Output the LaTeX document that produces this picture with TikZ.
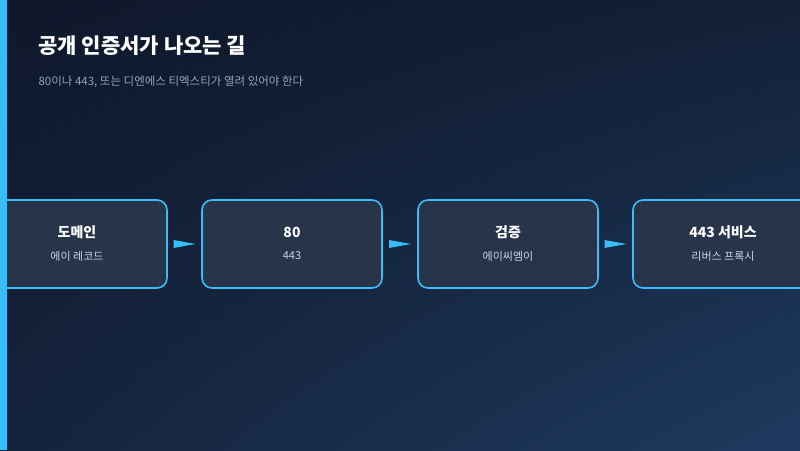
\documentclass[tikz,border=0pt]{standalone}
\usepackage{fontspec}
\setmainfont{Noto Sans CJK KR}
\usetikzlibrary{calc,shadings}
\definecolor{bord}{HTML}{38BDF8}
\definecolor{boxf}{HTML}{28344A}
\definecolor{subc}{HTML}{CBD5E1}
\definecolor{gr}{HTML}{94A3B8}
\definecolor{bgul}{HTML}{0F172A}
\definecolor{bgur}{HTML}{122037}
\definecolor{bgll}{HTML}{14233C}
\definecolor{bglr}{HTML}{1E3A5F}
\begin{document}
\begin{tikzpicture}[x=1pt,y=-1pt,
 box/.style={draw=bord,line width=1.6pt,fill=boxf,rounded corners=10pt,minimum width=180pt,minimum height=88pt,inner sep=0pt},
 hd/.style={text=white,font=\fontsize{14}{16}\selectfont\bfseries},
 sb/.style={text=subc,font=\fontsize{11}{13}\selectfont}]
\useasboundingbox (0,0) rectangle (800,450);
\shade[upper left=bgul,upper right=bgur,lower left=bgll,lower right=bglr] (0,0) rectangle (800,450);
\node[box] (b1) at (77,244) {};
\node[box] (b2) at (292,244) {};
\node[box] (b3) at (508,244) {};
\node[box] (b4) at (723,244) {};
\fill[bord] (0,0) rectangle (7,450);
\foreach \i/\h/\s in {1/도메인/에이 레코드,2/80 / 443/방화벽 개방,3/검증/에이씨엠이,4/443 서비스/리버스 프록시}{
 \node[hd] (h\i) at ([yshift=12pt]b\i.center) {\h};
 \node[sb] (s\i) at ([yshift=-12pt]b\i.center) {\s};
}
\foreach \a/\b in {b1/b2,b2/b3,b3/b4}{
 \coordinate (m) at ($(\a.east)!0.5!(\b.west)$);
 \fill[bord] ([xshift=-11pt,yshift=-4pt]m) -- ([xshift=11pt]m) -- ([xshift=-11pt,yshift=4pt]m) -- cycle;
}
\node[anchor=west,text=white,font=\fontsize{21}{24}\selectfont\bfseries] (t) at (35,46) {공개 인증서가 나오는 길};
\node[anchor=west,text=gr,font=\fontsize{11.5}{14}\selectfont] (st) at (35,82) {80이나 443, 또는 디엔에스 티엑스티가 열려 있어야 한다};
\end{tikzpicture}
\end{document}
